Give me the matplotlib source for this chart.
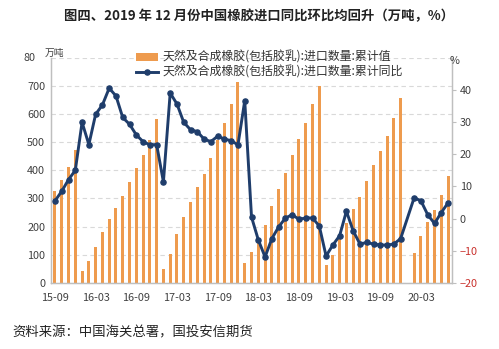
import matplotlib
matplotlib.use('Agg')
import matplotlib.pyplot as plt
import numpy as np
import pandas as pd

plt.rcParams['font.family'] = ['Noto Sans CJK SC', 'DejaVu Sans']

# 月度数据 2015-09 ~ 2020-07（2020-01 无单月数据）
months = pd.date_range('2015-09-01', '2020-07-01', freq='MS')

import_cum = [325, 366, 412, 472,
              44, 77, 129, 181, 228, 268, 309, 359, 408, 453, 508, 581,
              50, 104, 175, 234, 289, 341, 388, 442, 508, 567, 634, 714,
              70, 109, 148, 207, 272, 333, 392, 455, 510, 567, 634, 700,
              63, 100, 157, 213, 263, 307, 362, 419, 470, 523, 584, 658,
              np.nan, 105, 168, 216, 260, 313, 380]

import_yoy = [5.5, 8.5, 12.1, 15.0,
              29.9, 23.0, 32.4, 35.3, 40.5, 38.1, 31.4, 29.3, 26.0, 23.9, 22.9, 23.0,
              11.4, 39.0, 35.6, 29.9, 27.6, 27.0, 24.7, 23.9, 25.6, 24.7, 24.2, 22.9,
              36.6, 0.5, -6.6, -11.9, -6.2, -2.6, 0.2, 1.2, -0.2, 0.2, 0.2, -2.3,
              -11.6, -8.2, -5.3, 2.3, -3.8, -7.9, -7.4, -7.9, -8.2, -8.2, -7.9, -6.2,
              np.nan, 6.5, 5.5, 1.2, -1.5, 1.9, 4.9]

tick_labels = ['15-09', '16-03', '16-09', '17-03', '17-09', '18-03',
               '18-09', '19-03', '19-09', '20-03']

bar_name = '天然及合成橡胶(包括胶乳):进口数量:累计值'
line_name = '天然及合成橡胶(包括胶乳):进口数量:累计同比'

orange = '#EE9B4E'
navy = '#1F3D6B'
grey = '#BFBFBF'
txt = '#404040'

x = np.arange(len(months))
yoy = np.array(import_yoy, dtype=float)
ok = ~np.isnan(yoy)

fig = plt.figure(figsize=(4.99, 3.49), dpi=100)
ax = fig.add_axes([0.1016, 0.189, 0.8034, 0.646])
ax2 = ax.twinx()

b = ax.bar(x, import_cum, width=0.45, color=orange, zorder=2)
ax.set_xlim(-0.63, 58.52)
ax.set_ylim(0, 800)
ax.set_yticks(range(0, 800, 100))
ax.set_axisbelow(True)
ax.yaxis.grid(True, color='#D9D9D9', linestyle=(0, (4, 3)), linewidth=0.8)
ax.axhline(800, color='#D9D9D9', linestyle=(0, (4, 3)), linewidth=0.8, zorder=0)

ax.set_xticks(x[::6])
ax.set_xticklabels(tick_labels)
ax.tick_params(axis='both', length=0, labelsize=7.8, labelcolor=txt, pad=4)
ax.tick_params(axis='x', pad=7)

ln, = ax2.plot(x[ok], yoy[ok], color=navy, linewidth=2.1, marker='o',
               markersize=3.7, markerfacecolor=navy, markeredgecolor=navy)
ax2.set_ylim(-20, 50)
ax2.set_yticks(range(-20, 50, 10))
ax2.tick_params(axis='y', length=3, color=grey, labelsize=7.8, labelcolor=txt, pad=3)
for t in ax2.get_yticklabels():
    if t.get_text().startswith(('-', '\u2212')):
        t.set_color('#C9302C')

for a in (ax, ax2):
    a.spines['top'].set_visible(False)
    for s in ('left', 'right', 'bottom'):
        a.spines[s].set_color(grey)
        a.spines[s].set_linewidth(0.9)

fig.text(0.047, 0.835, '80', fontsize=7.8, color=txt, va='center')
fig.text(0.09, 0.847, '万吨', fontsize=7, color=txt, va='center')
fig.text(0.902, 0.826, '%', fontsize=7.8, color=txt, va='center')

fig.legend([b, ln], [bar_name, line_name], loc='upper left',
           bbox_to_anchor=(0.262, 0.868), frameon=False, fontsize=8.6,
           labelcolor='#333333', handlelength=1.9, handletextpad=0.4,
           labelspacing=0.15, borderaxespad=0)

fig.text(0.52, 0.953, '图四、2019 年 12 月份中国橡胶进口同比环比均回升（万吨，%）',
         ha='center', va='center', fontsize=9.6, fontweight='bold', color='#222222')
fig.text(0.025, 0.048, '资料来源：中国海关总署，国投安信期货',
         ha='left', va='center', fontsize=9.6, color='#222222')

fig.savefig('out.png', dpi=100)
